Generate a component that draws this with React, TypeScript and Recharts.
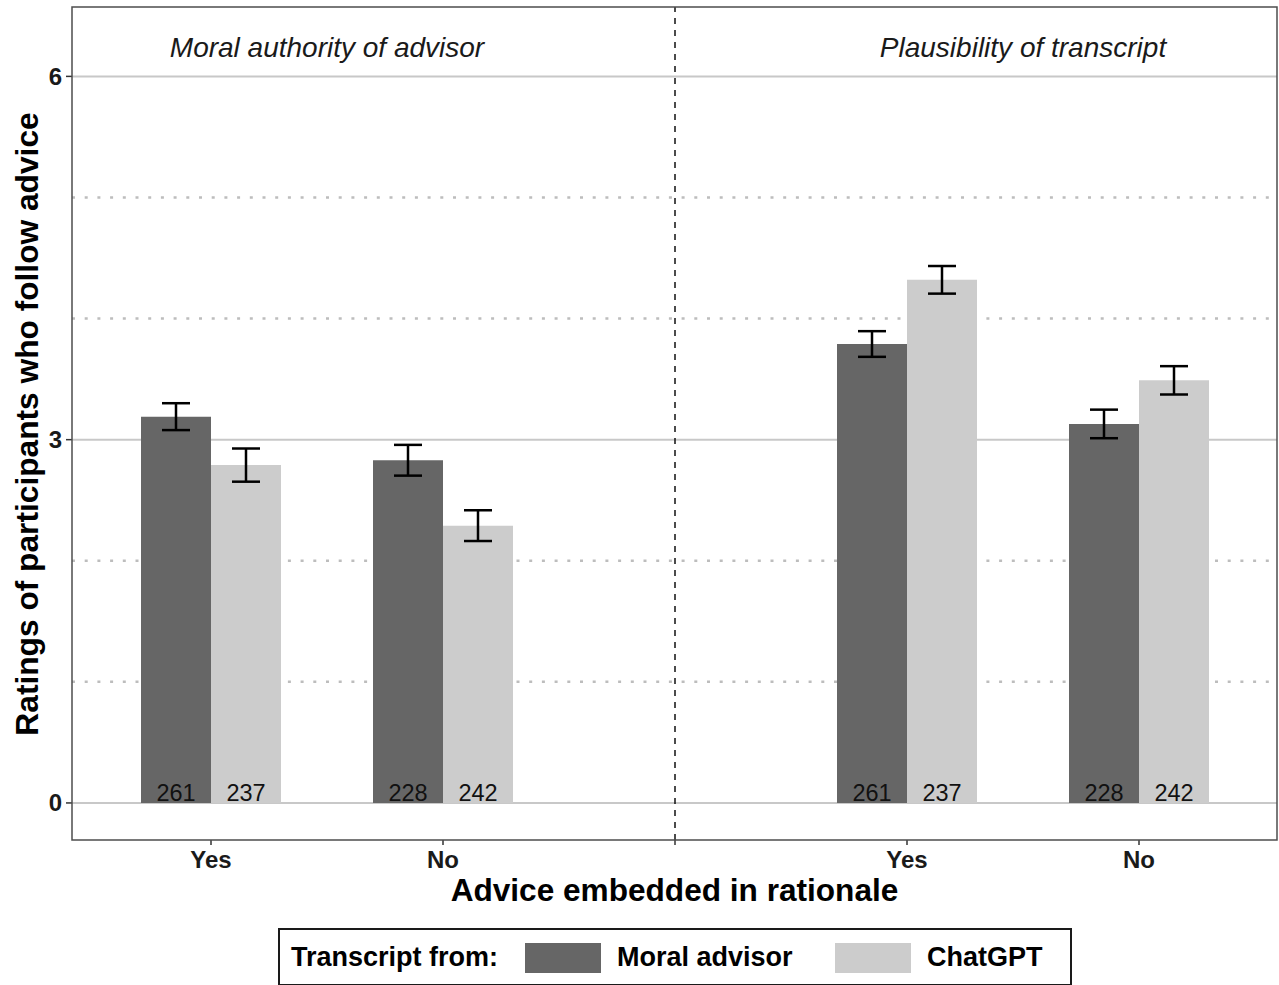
import React from "react";
import {
  Bar,
  CartesianGrid,
  ComposedChart,
  ErrorBar,
  LabelList,
  ReferenceLine,
  XAxis,
  YAxis,
} from "recharts";

// five slots on the x axis: two per panel plus an empty divider slot
const slotKeys = ["moral-yes", "moral-no", "divider", "plaus-yes", "plaus-no"];
const slotLabels = ["Yes", "No", "", "Yes", "No"];

const moralAdvisor = [3.19, 2.83, null, 3.79, 3.13];
const moralAdvisorErr = [0.111, 0.127, null, 0.106, 0.118];
const moralAdvisorN = [261, 228, null, 261, 228];

const chatGPT = [2.79, 2.29, null, 4.32, 3.49];
const chatGPTErr = [0.137, 0.127, null, 0.114, 0.117];
const chatGPTN = [237, 242, null, 237, 242];

const panelTitles = ["Moral authority of advisor", "Plausibility of transcript"];
const seriesNames = ["Moral advisor", "ChatGPT"];
const solidGrid = [0, 3, 6];
const dottedGrid = [1, 2, 4, 5];
const yTicks = [0, 3, 6];

const DARK = "#666666";
const LIGHT = "#cccccc";
const FONT = "'Liberation Sans', Arial, Helvetica, sans-serif";

const data = slotKeys.map((key, i) => ({
  key,
  moral: moralAdvisor[i],
  moralErr: moralAdvisorErr[i],
  moralN: moralAdvisorN[i],
  gpt: chatGPT[i],
  gptErr: chatGPTErr[i],
  gptN: chatGPTN[i],
}));

const W = 1279;
const H = 985;

export default function App() {
  return (
    <div style={{ position: "absolute", left: 0, top: 0, width: W, height: H, background: "#fff", fontFamily: FONT }}>
      <ComposedChart
        width={W}
        height={H}
        data={data}
        margin={{ top: 7, right: 2, left: 0, bottom: 115 }}
        barSize={70}
        barGap={0}
      >
        <CartesianGrid vertical={false} horizontalValues={solidGrid} stroke="#c8c8c8" strokeWidth={2} />
        <CartesianGrid vertical={false} horizontalValues={dottedGrid} stroke="#bdbdbd" strokeWidth={2.5} strokeDasharray="3 9.7" />
        <XAxis
          dataKey="key"
          interval={0}
          padding={{ left: 23, right: 22 }}
          height={30}
          axisLine={false}
          tickSize={5}
          tickMargin={6}
          tickLine={{ stroke: "#333", strokeWidth: 1.5 }}
          tick={{ fontSize: 24, fontWeight: 700, fill: "#1a1a1a", fontFamily: FONT }}
          tickFormatter={(_v: string, i: number) => slotLabels[i]}
        />
        <YAxis
          type="number"
          width={72}
          domain={[-0.306, 6.573]}
          allowDataOverflow
          ticks={yTicks}
          axisLine={false}
          tickSize={6}
          tickMargin={4}
          tickLine={{ stroke: "#333", strokeWidth: 1.5 }}
          tick={{ fontSize: 24, fontWeight: 700, fill: "#1a1a1a", fontFamily: FONT }}
        />
        <ReferenceLine x="divider" stroke="#111" strokeWidth={1.5} strokeDasharray="6 6" />
        <Bar dataKey="moral" name={seriesNames[0]} fill={DARK} isAnimationActive={false}>
          <ErrorBar dataKey="moralErr" width={14} stroke="#000" strokeWidth={2.5} />
          <LabelList dataKey="moralN" position="insideBottom" offset={2} fill="#111" fontSize={23.5} fontFamily={FONT} />
        </Bar>
        <Bar dataKey="gpt" name={seriesNames[1]} fill={LIGHT} isAnimationActive={false}>
          <ErrorBar dataKey="gptErr" width={14} stroke="#000" strokeWidth={2.5} />
          <LabelList dataKey="gptN" position="insideBottom" offset={2} fill="#111" fontSize={23.5} fontFamily={FONT} />
        </Bar>
      </ComposedChart>

      {/* panel border, facet titles and axis titles */}
      <svg width={W} height={H} style={{ position: "absolute", left: 0, top: 0, pointerEvents: "none" }}>
        <rect x={72} y={7} width={1205} height={833} fill="none" stroke="#4d4d4d" strokeWidth={1.5} />
        <text x={327} y={57} textAnchor="middle" fontSize={28} fontStyle="italic" fill="#1a1a1a" fontFamily={FONT}>
          {panelTitles[0]}
        </text>
        <text x={1023} y={57} textAnchor="middle" fontSize={28} fontStyle="italic" fill="#1a1a1a" fontFamily={FONT}>
          {panelTitles[1]}
        </text>
        <text x={674.5} y={901} textAnchor="middle" fontSize={31.6} fontWeight={700} fill="#000" fontFamily={FONT}>
          Advice embedded in rationale
        </text>
        <text transform="translate(38,424) rotate(-90)" textAnchor="middle" fontSize={31.7} fontWeight={700} fill="#000" fontFamily={FONT}>
          Ratings of participants who follow advice
        </text>
      </svg>

      {/* legend */}
      <div
        style={{
          position: "absolute",
          left: 278,
          top: 928,
          width: 794,
          height: 58,
          boxSizing: "border-box",
          border: "2px solid #1a1a1a",
          background: "#fff",
          fontSize: 27,
          fontWeight: 700,
          color: "#000",
        }}
      >
        <span style={{ position: "absolute", left: 11, top: 11, lineHeight: "32px" }}>Transcript from:</span>
        <span style={{ position: "absolute", left: 245, top: 13, width: 76, height: 30, background: DARK }} />
        <span style={{ position: "absolute", left: 337, top: 11, lineHeight: "32px" }}>{seriesNames[0]}</span>
        <span style={{ position: "absolute", left: 555, top: 13, width: 76, height: 30, background: LIGHT }} />
        <span style={{ position: "absolute", left: 647, top: 11, lineHeight: "32px" }}>{seriesNames[1]}</span>
      </div>
    </div>
  );
}
